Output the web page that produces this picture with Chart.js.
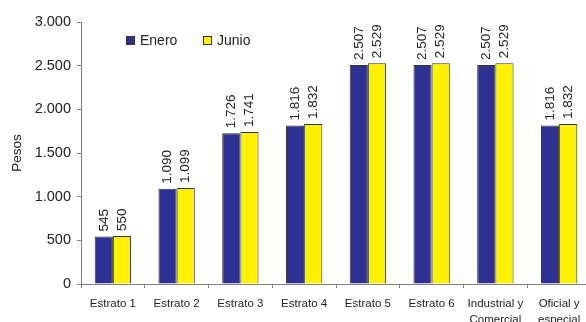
<!DOCTYPE html>
<html>
<head>
<meta charset="utf-8">
<script src="https://cdn.jsdelivr.net/npm/chart.js@4.4.1/dist/chart.umd.min.js"></script>
<style>
  html, body { margin: 0; padding: 0; background: #fff; overflow: hidden; }
  #wrap { width: 600px; height: 322px; }
</style>
</head>
<body>
<div id="wrap"><canvas id="chart" width="600" height="322"></canvas></div>
<script>
// categorias y valores (pesos)
const categorias = [
  "Estrato 1", "Estrato 2", "Estrato 3", "Estrato 4",
  "Estrato 5", "Estrato 6", ["Industrial y", "Comercial"], ["Oficial y", "especial"]
];
const enero = [545, 1090, 1726, 1816, 2507, 2507, 2507, 1816];
const junio = [550, 1099, 1741, 1832, 2529, 2529, 2529, 1832];
const ejeY = [0, 500, 1000, 1500, 2000, 2500, 3000];

const FONT = "Arial, 'Liberation Sans', sans-serif";
const AZUL = "#2E3192";
const AMARILLO = "#FFF200";

// separador de miles con punto
function fmt(v) {
  return String(v).replace(/\B(?=(\d{3})+(?!\d))/g, ".");
}

// etiquetas verticales encima de cada barra
const etiquetasBarras = {
  id: "etiquetasBarras",
  afterDatasetsDraw(chart) {
    const ctx = chart.ctx;
    ctx.save();
    ctx.font = "13.5px " + FONT;
    ctx.fillStyle = "#222";
    ctx.textAlign = "left";
    ctx.textBaseline = "middle";
    chart.data.datasets.forEach((ds, i) => {
      chart.getDatasetMeta(i).data.forEach((bar, j) => {
        ctx.save();
        ctx.translate(bar.x, bar.y - 5);
        ctx.rotate(-Math.PI / 2);
        ctx.fillText(fmt(ds.data[j]), 0, 0);
        ctx.restore();
      });
    });
    ctx.restore();
  }
};

// leyenda dentro del area del grafico
const leyenda = {
  id: "leyenda",
  afterDraw(chart) {
    const ctx = chart.ctx;
    const items = [
      { x: 126, color: AZUL, text: "Enero" },
      { x: 203, color: AMARILLO, text: "Junio" }
    ];
    ctx.save();
    ctx.font = "14px " + FONT;
    ctx.textBaseline = "middle";
    items.forEach(it => {
      ctx.fillStyle = it.color;
      ctx.fillRect(it.x + 0.5, 36.5, 8, 8);
      ctx.strokeStyle = "#333";
      ctx.lineWidth = 1;
      ctx.strokeRect(it.x + 0.5, 36.5, 8, 8);
      ctx.fillStyle = "#222";
      ctx.fillText(it.text, it.x + 14, 41);
    });
    ctx.restore();
  }
};

new Chart(document.getElementById("chart"), {
  type: "bar",
  data: {
    labels: categorias,
    datasets: [
      {
        label: "Enero",
        data: enero,
        backgroundColor: AZUL,
        borderColor: "#333",
        borderWidth: 1,
        categoryPercentage: 0.57,
        barPercentage: 1
      },
      {
        label: "Junio",
        data: junio,
        backgroundColor: AMARILLO,
        borderColor: "#333",
        borderWidth: 1,
        categoryPercentage: 0.57,
        barPercentage: 1
      }
    ]
  },
  options: {
    responsive: false,
    animation: false,
    layout: { padding: { top: 22, right: 9, left: 0, bottom: 0 } },
    plugins: {
      legend: { display: false },
      tooltip: { enabled: false }
    },
    scales: {
      x: {
        grid: { display: true, drawOnChartArea: false, tickLength: 4, color: "#808080" },
        border: { display: true, color: "#808080" },
        ticks: {
          color: "#222",
          padding: 8,
          maxRotation: 0,
          autoSkip: false,
          font: { family: FONT, size: 11.5, lineHeight: 1.4 }
        },
        afterFit(scale) { scale.height = 38; }
      },
      y: {
        min: 0,
        max: 3000,
        afterBuildTicks(scale) { scale.ticks = ejeY.map(v => ({ value: v })); },
        grid: { display: true, drawOnChartArea: false, tickLength: 4, color: "#808080" },
        border: { display: true, color: "#808080" },
        ticks: {
          color: "#222",
          padding: 6,
          font: { family: FONT, size: 14.5 },
          callback: v => fmt(v)
        },
        title: {
          display: true,
          text: "Pesos",
          color: "#222",
          padding: { top: 9 },
          font: { family: FONT, size: 13.5 }
        },
        afterFit(scale) { scale.width = 81; }
      }
    }
  },
  plugins: [etiquetasBarras, leyenda]
});
</script>
</body>
</html>
